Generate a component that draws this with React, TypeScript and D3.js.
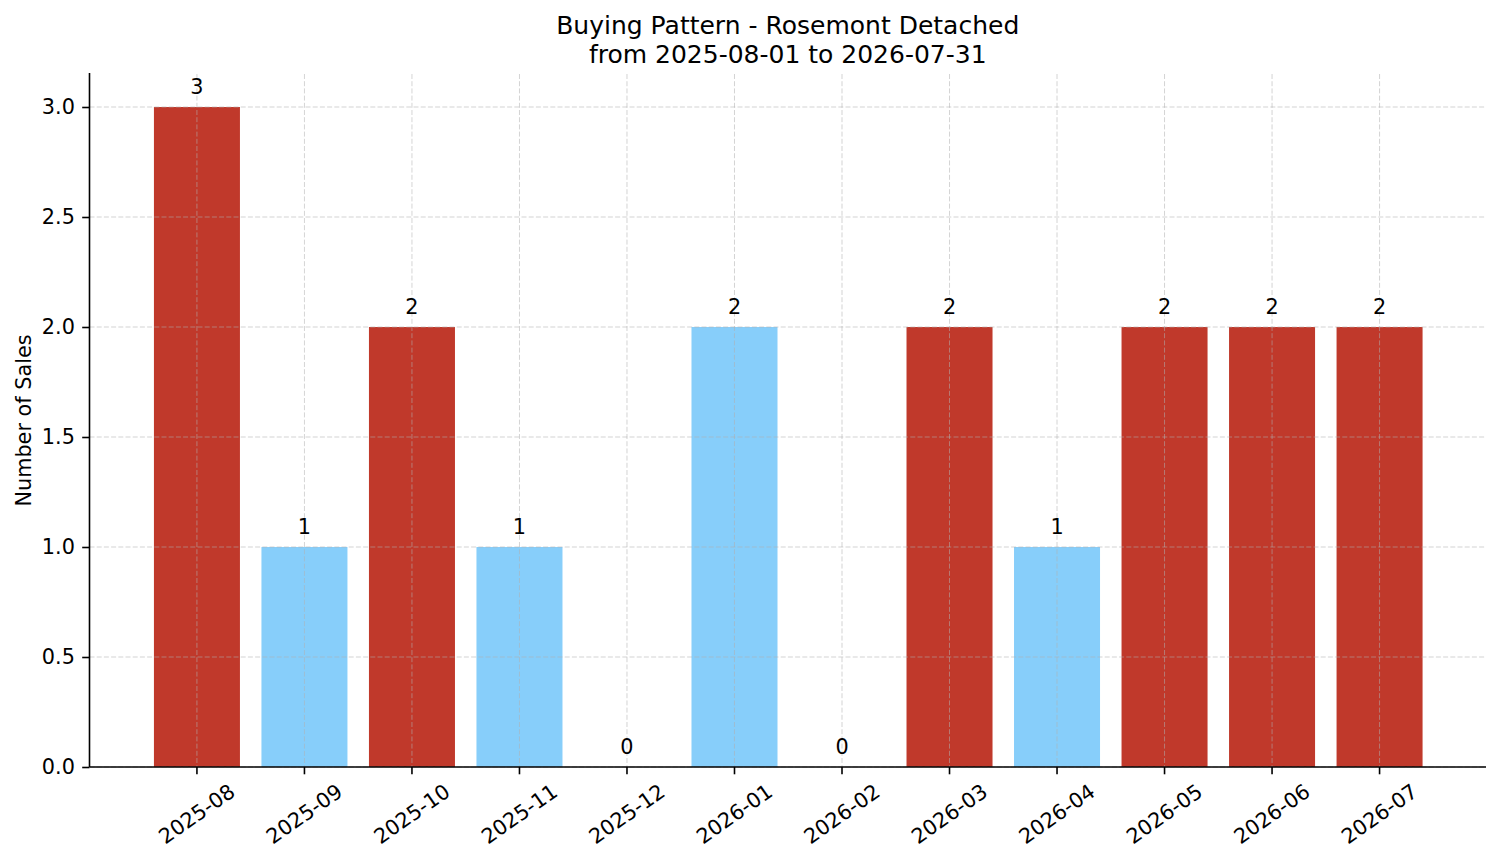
import { useEffect, useRef } from "react";
import * as d3 from "d3";

const months = [
  "2025-08", "2025-09", "2025-10", "2025-11", "2025-12", "2026-01",
  "2026-02", "2026-03", "2026-04", "2026-05", "2026-06", "2026-07",
];
const sales = [3, 1, 2, 1, 0, 2, 0, 2, 1, 2, 2, 2];
const barColors = [
  "#c0392b", "#87cefa", "#c0392b", "#87cefa", "#87cefa", "#87cefa",
  "#87cefa", "#c0392b", "#87cefa", "#c0392b", "#c0392b", "#c0392b",
];
const yTicks = [0, 0.5, 1, 1.5, 2, 2.5, 3];
const titleLines = ["Buying Pattern - Rosemont Detached", "from 2025-08-01 to 2026-07-31"];

const W = 1501;
const H = 863;
const FONT = "DejaVu Sans, sans-serif";

function App() {
  const svgRef = useRef<SVGSVGElement | null>(null);

  useEffect(() => {
    const svg: any = d3.select(svgRef.current);
    svg.selectAll("*").remove();

    const left = 89.5, right = 1486, top = 74, bottom = 767;

    const x = d3
      .scaleBand()
      .domain(months)
      .range([left + 1, right])
      .paddingInner(0.2)
      .paddingOuter(0.59);
    const y = d3.scaleLinear().domain([0, 3.15]).range([bottom, top]);

    // bars
    svg
      .append("g")
      .selectAll("rect")
      .data(sales)
      .enter()
      .append("rect")
      .attr("x", (_: any, i: number) => x(months[i]))
      .attr("y", (d: number) => y(d))
      .attr("width", x.bandwidth())
      .attr("height", (d: number) => bottom - y(d))
      .style("fill", (_: any, i: number) => barColors[i]);

    // grid (drawn above bars, like matplotlib)
    const grid = svg
      .append("g")
      .style("stroke", "#b0b0b0")
      .style("stroke-opacity", 0.55)
      .style("stroke-width", 1)
      .style("stroke-dasharray", "5,2.2");
    grid
      .selectAll("line.h")
      .data(yTicks)
      .enter()
      .append("line")
      .attr("x1", left)
      .attr("x2", right)
      .attr("y1", (d: number) => y(d))
      .attr("y2", (d: number) => y(d));
    grid
      .selectAll("line.v")
      .data(months)
      .enter()
      .append("line")
      .attr("x1", (d: string) => x(d)! + x.bandwidth() / 2)
      .attr("x2", (d: string) => x(d)! + x.bandwidth() / 2)
      .attr("y1", top)
      .attr("y2", bottom);

    // value labels
    svg
      .append("g")
      .selectAll("text")
      .data(sales)
      .enter()
      .append("text")
      .attr("x", (_: any, i: number) => x(months[i])! + x.bandwidth() / 2)
      .attr("y", (d: number) => y(d) - 13)
      .attr("text-anchor", "middle")
      .style("font-family", FONT)
      .style("font-size", "20.8px")
      .style("fill", "#000")
      .text((d: number) => String(d));

    // y axis
    const yAxis = svg
      .append("g")
      .attr("transform", `translate(${left},0)`)
      .call(
        d3
          .axisLeft(y)
          .tickValues(yTicks)
          .tickFormat((d: any) => d3.format(".1f")(d))
          .tickSizeInner(7.3)
          .tickSizeOuter(0)
          .tickPadding(7.3)
      );
    // x axis
    const xAxis = svg
      .append("g")
      .attr("transform", `translate(0,${bottom})`)
      .call(d3.axisBottom(x).tickSizeInner(7.3).tickSizeOuter(0).tickPadding(7.3));

    [yAxis, xAxis].forEach((ax: any) => {
      ax.select(".domain").style("stroke", "#000").style("stroke-width", 1.6);
      ax.selectAll(".tick line").style("stroke", "#000").style("stroke-width", 1.6);
      ax.selectAll(".tick text")
        .style("font-family", FONT)
        .style("font-size", "20.8px")
        .style("fill", "#000");
    });
    xAxis.select(".domain").attr("d", `M${left},0H${right}`);
    yAxis.select(".domain").attr("d", `M0,${bottom}V${top - 1}`);

    xAxis
      .selectAll(".tick text")
      .attr("y", 0)
      .attr("dy", null)
      .attr("text-anchor", "middle")
      .attr("dominant-baseline", "central")
      .attr("transform", "translate(0,47) rotate(-35)");

    // y label
    svg
      .append("text")
      .attr("transform", `translate(31,${(top + bottom) / 2}) rotate(-90)`)
      .attr("text-anchor", "middle")
      .style("font-family", FONT)
      .style("font-size", "20.8px")
      .style("fill", "#000")
      .text("Number of Sales");

    // title
    svg
      .append("g")
      .selectAll("text")
      .data(titleLines)
      .enter()
      .append("text")
      .attr("x", (left + right) / 2)
      .attr("y", (_: any, i: number) => 34 + i * 29)
      .attr("text-anchor", "middle")
      .style("font-family", FONT)
      .style("font-size", "25px")
      .style("fill", "#000")
      .text((d: string) => d);
  }, []);

  return (
    <svg
      ref={svgRef}
      width={W}
      height={H}
      style={{ display: "block", position: "absolute", left: 0, top: 0, background: "#fff" }}
    ></svg>
  );
}

export default App;
